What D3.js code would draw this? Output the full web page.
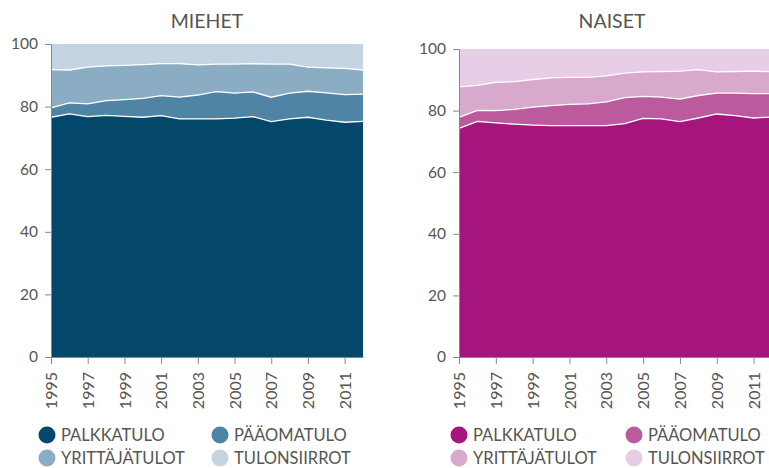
<!DOCTYPE html>
<html><head><meta charset="utf-8">
<script src="https://cdn.jsdelivr.net/npm/d3@7"></script>
<style>
html,body{margin:0;padding:0;background:#fff;overflow:hidden}
text{font-family:Lato,"Open Sans",sans-serif;fill:#555}
</style></head>
<body><svg id="c" width="769" height="468"></svg>
<script>
const years = d3.range(1995, 2013);
const seriesNames = ["PALKKATULO","PÄÄOMATULO","YRITTÄJÄTULOT","TULONSIIRROT"];
const yTicks = [0,20,40,60,80,100];
const xTicks = [1995,1997,1999,2001,2003,2005,2007,2009,2011];

// MIEHET (men) shares, %
const menPalkka   = [76.6,77.7,76.8,77.2,76.9,76.6,77.1,76.1,76.1,76.1,76.3,76.8,75.2,76.1,76.6,75.7,75.0,75.3];
const menPaaoma   = [3.0,3.5,4.1,4.7,5.3,6.0,6.4,6.9,7.6,8.7,8.0,7.9,7.8,8.2,8.3,8.7,8.8,8.7];
const menYrittaja = [12.2,10.5,11.7,11.1,11.0,10.8,10.2,10.7,9.6,8.8,9.3,9.0,10.6,9.3,7.7,8.0,8.4,7.7];
const menSiirrot  = [8.2,8.3,7.4,7.0,6.8,6.6,6.3,6.3,6.7,6.4,6.4,6.3,6.4,6.4,7.4,7.6,7.8,8.3];

// NAISET (women) shares, %
const womenPalkka   = [74.2,76.5,76.0,75.6,75.3,75.1,75.1,75.1,75.1,75.8,77.5,77.3,76.4,77.6,78.9,78.4,77.6,77.9];
const womenPaaoma   = [3.6,3.6,4.0,4.8,5.8,6.5,6.9,7.1,7.7,8.4,7.1,7.1,7.3,7.3,6.8,7.3,7.9,7.6];
const womenYrittaja = [9.9,8.1,9.2,9.0,9.0,9.0,8.8,8.6,8.5,8.0,8.0,8.3,9.1,8.4,6.9,7.0,7.3,7.1];
const womenSiirrot  = [12.3,11.8,10.8,10.6,9.9,9.4,9.2,9.2,8.7,7.8,7.4,7.3,7.2,6.7,7.4,7.3,7.2,7.4];

const menColors   = ["#03486a","#4f84a4","#8badc3","#c4d4e3"];
const womenColors = ["#a6157e","#bb5b9d","#d8a9cd","#e7cde5"];

const svg = d3.select("#c");

function panel(cfg){
  const rows = years.map((y,i)=>({year:y, s0:cfg.data[0][i], s1:cfg.data[1][i], s2:cfg.data[2][i], s3:cfg.data[3][i]}));
  const keys = ["s0","s1","s2","s3"];
  const stack = d3.stack().keys(keys)(rows);
  const x = d3.scaleLinear().domain([1995,2012]).range([cfg.x0, cfg.x1]);
  const y = d3.scaleLinear().domain([0,100]).range([cfg.yb, cfg.yt]);
  const g = svg.append("g");
  const area = d3.area().x(d=>x(d.data.year)).y0(d=>y(d[0])).y1(d=>y(d[1]));
  g.selectAll("path.a").data(stack).join("path").attr("class","a")
    .attr("d",area).attr("fill",(d,i)=>cfg.colors[i]);
  const line = d3.line().x(d=>x(d.data.year)).y(d=>y(d[1]));
  g.selectAll("path.l").data(stack.slice(0,3)).join("path").attr("class","l")
    .attr("d",line).attr("fill","none").attr("stroke","#fff").attr("stroke-width",1.3);

  const ya = g.append("g").attr("transform",`translate(${cfg.x0},0)`)
    .call(d3.axisLeft(y).tickValues(yTicks).tickSize(6).tickPadding(7));
  ya.select(".domain").attr("stroke","#888");
  ya.selectAll(".tick line").attr("stroke","#888");
  ya.selectAll("text").style("font-size","15.5px").attr("fill","#555");

  const xa = g.append("g").attr("transform",`translate(0,${cfg.yb})`)
    .call(d3.axisBottom(x).tickValues(xTicks).tickFormat(d3.format("d")).tickSize(7).tickSizeOuter(0));
  xa.select(".domain").attr("stroke","#888");
  xa.selectAll(".tick line").attr("stroke","#888");
  xa.selectAll("text").style("font-size","16px").attr("fill","#555")
    .attr("transform","rotate(-90)").attr("text-anchor","end")
    .attr("x",-15).attr("y",0).attr("dy","0.35em");

  svg.append("text").attr("x",cfg.titleX).attr("y",28).attr("text-anchor","middle")
    .style("font-size","19.5px").attr("fill","#555").text(cfg.title);

  const leg = svg.append("g");
  seriesNames.forEach((n,i)=>{
    const cx = cfg.legX[i%2], cy = i<2 ? 435 : 458;
    leg.append("circle").attr("cx",cx).attr("cy",cy).attr("r",8.5).attr("fill",cfg.colors[i]);
    leg.append("text").attr("x",cx+14).attr("y",cy).attr("dy","0.36em")
      .style("font-size","16.5px").attr("fill","#222").text(n);
  });
}

panel({title:"MIEHET", titleX:207, x0:51, x1:363, yt:44, yb:357, colors:menColors,
  data:[menPalkka,menPaaoma,menYrittaja,menSiirrot], legX:[47,220]});
panel({title:"NAISET", titleX:612, x0:459, x1:772, yt:49, yb:357, colors:womenColors,
  data:[womenPalkka,womenPaaoma,womenYrittaja,womenSiirrot], legX:[459,634]});
</script></body></html>
